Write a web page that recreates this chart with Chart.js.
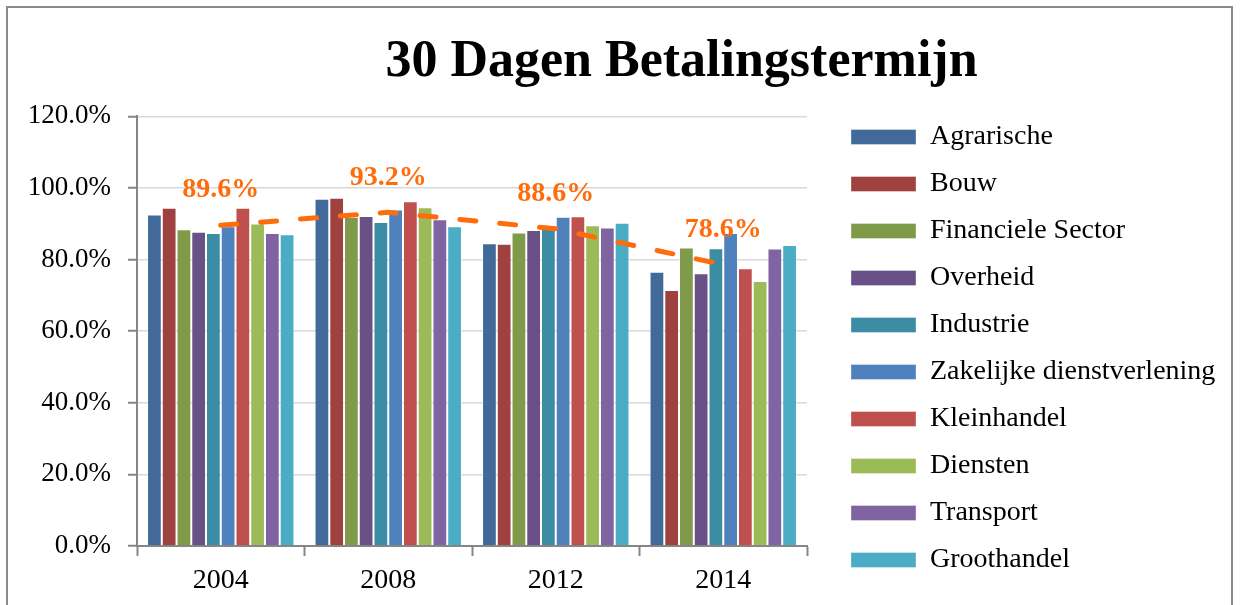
<!DOCTYPE html>
<html>
<head>
<meta charset="utf-8">
<script src="https://cdn.jsdelivr.net/npm/chart.js@4"></script>
<style>
  body { margin: 0; background: #fff; overflow: hidden; }
  #frame { position: absolute; left: 6px; top: 6px; width: 1223px; height: 700px; border: 2px solid #8a8a8a; }
  #wrap { position: absolute; left: 0; top: 0; width: 1241px; height: 605px; }
</style>
</head>
<body>
<div id="frame"></div>
<div id="wrap"><canvas id="chart"></canvas></div>
<script>
var years = ['2004', '2008', '2012', '2014'];

var agrarische   = [92.6, 97.0, 84.6, 76.6];
var bouw         = [94.5, 97.3, 84.4, 71.5];
var financiele   = [88.5, 91.9, 87.6, 83.4];
var overheid     = [87.8, 92.2, 88.3, 76.2];
var industrie    = [87.4, 90.5, 88.6, 83.2];
var zakelijke    = [89.3, 94.0, 92.0, 87.4];
var kleinhandel  = [94.5, 96.3, 92.1, 77.6];
var diensten     = [90.1, 94.6, 89.6, 74.0];
var transport    = [87.4, 91.3, 89.0, 83.1];
var groothandel  = [87.1, 89.3, 90.3, 84.1];
var gemiddelde   = [89.6, 93.2, 88.6, 78.6];

var yTicks = [0, 20, 40, 60, 80, 100, 120];

var series = [
  ['Agrarische', agrarische, '#416a9a'],
  ['Bouw', bouw, '#9f413e'],
  ['Financiele Sector', financiele, '#7f9a48'],
  ['Overheid', overheid, '#695187'],
  ['Industrie', industrie, '#3c8ca3'],
  ['Zakelijke dienstverlening', zakelijke, '#4f81bd'],
  ['Kleinhandel', kleinhandel, '#c0504d'],
  ['Diensten', diensten, '#9bbb59'],
  ['Transport', transport, '#8064a2'],
  ['Groothandel', groothandel, '#4bacc6']
];

var orange = '#ff6c0c';
var serif = "'Liberation Serif', 'Times New Roman', serif";

var datasets = [{
  type: 'line',
  label: 'Gemiddelde',
  data: gemiddelde,
  order: 0,
  borderColor: orange,
  borderWidth: 5,
  borderDash: [16, 24],
  borderCapStyle: 'round',
  pointRadius: 0,
  tension: 0,
  fill: false
}];

series.forEach(function(s) {
  datasets.push({
    type: 'bar',
    label: s[0],
    data: s[1],
    order: 1,
    backgroundColor: s[2],
    borderColor: 'rgba(255,255,255,0.35)',
    borderWidth: 1,
    categoryPercentage: 0.88,
    barPercentage: 1.0
  });
});

// legend a fixed width and nudged right/down, title centred over the plot+legend part
var layoutTweak = {
  id: 'layoutTweak',
  beforeInit: function(chart) {
    var fit = chart.legend.fit;
    chart.legend.fit = function() {
      fit.call(this);
      this.width = 434;
    };
  },
  afterLayout: function(chart) {
    var lg = chart.legend;
    lg.left += 25; lg.right += 25;
    lg.top += 104; lg.bottom += 104;
    chart.titleBlock.left += 122;
  }
};

var avgLabels = {
  id: 'avgLabels',
  afterDatasetsDraw: function(chart) {
    var ctx = chart.ctx;
    var meta = chart.getDatasetMeta(0);
    ctx.save();
    ctx.font = 'bold 28px ' + serif;
    ctx.fillStyle = orange;
    ctx.textAlign = 'center';
    ctx.textBaseline = 'middle';
    meta.data.forEach(function(pt, i) {
      ctx.fillText(gemiddelde[i].toFixed(1) + '%', pt.x, pt.y - 35);
    });
    ctx.restore();
  }
};

new Chart(document.getElementById('chart'), {
  data: { labels: years, datasets: datasets },
  options: {
    responsive: true,
    maintainAspectRatio: false,
    animation: false,
    layout: { padding: { left: 0, top: 0, right: 0, bottom: 0 } },
    plugins: {
      title: {
        display: true,
        text: '30 Dagen Betalingstermijn',
        color: '#000',
        font: { family: serif, size: 52, weight: 'bold', lineHeight: 1.2 },
        padding: { top: 31, bottom: 23 }
      },
      legend: {
        position: 'right',
        align: 'start',
        labels: {
          boxWidth: 65,
          boxHeight: 15,
          padding: 19,
          color: '#000',
          font: { family: serif, size: 28 },
          filter: function(item) { return item.datasetIndex > 0; }
        }
      },
      tooltip: { enabled: false }
    },
    scales: {
      x: {
        afterFit: function(s) { s.height = 59; },
        grid: { drawOnChartArea: false, tickLength: 10, tickColor: '#868686', tickWidth: 2 },
        border: { color: '#868686', width: 2 },
        ticks: { color: '#000', padding: 8, font: { family: serif, size: 28 } }
      },
      y: {
        min: 0,
        max: 120,
        afterFit: function(s) { s.width = 137; },
        afterBuildTicks: function(s) { s.ticks = yTicks.map(function(v) { return { value: v }; }); },
        grid: { color: '#d9d9d9', lineWidth: 1.5, tickLength: 9, tickColor: '#868686', tickWidth: 2 },
        border: { color: '#868686', width: 2 },
        ticks: {
          color: '#000',
          padding: 17,
          font: { family: serif, size: 27 },
          callback: function(v) { return v.toFixed(1) + '%'; }
        }
      }
    }
  },
  plugins: [layoutTweak, avgLabels]
});
</script>
</body>
</html>
